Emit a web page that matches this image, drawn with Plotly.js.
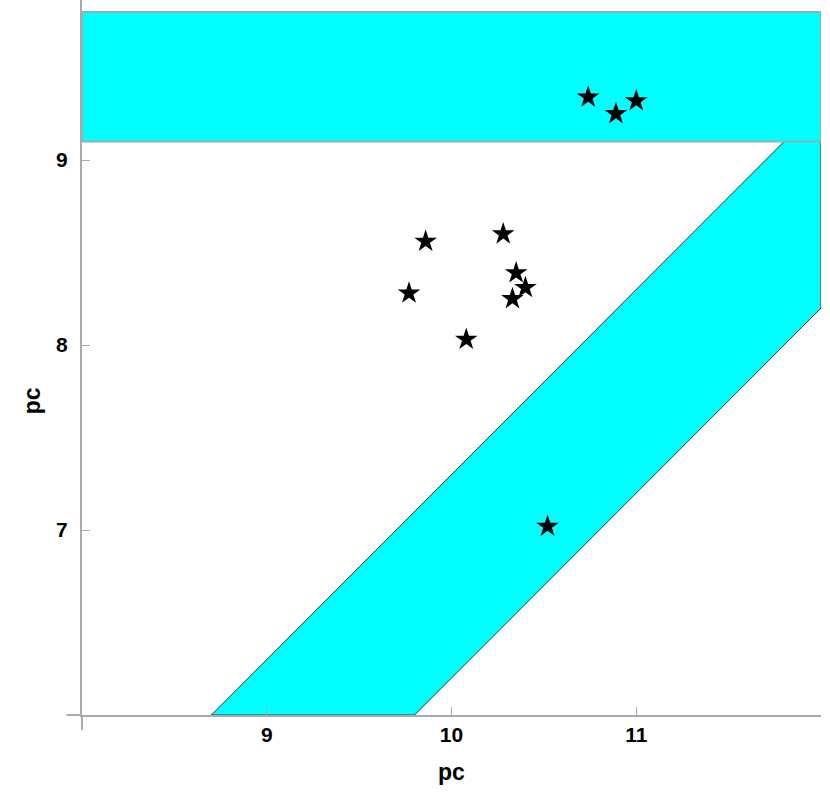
<!DOCTYPE html>
<html>
<head>
<meta charset="utf-8">
<script src="https://cdn.plot.ly/plotly-3.0.1.min.js"></script>
<style>
  body { margin: 0; background: #fff; }
  #chart { width: 830px; height: 806px; }
</style>
</head>
<body>
<div id="chart"></div>
<script>
// star points (pc, pc)
const starX = [10.74, 10.89, 11.00, 9.86, 10.28, 9.77, 10.35, 10.40, 10.33, 10.08, 10.52];
const starY = [9.34, 9.25, 9.32, 8.56, 8.60, 8.28, 8.39, 8.31, 8.25, 8.03, 7.02];

// horizontal band limits
const bandY = [9.1, 9.8];
// diagonal band: y = x - offset
const diagOffset = [2.7, 3.8];

// axis ranges and ticks
const xRange = [8, 12];
const yRange = [6, 9.865];
const xTicks = [8, 9, 10, 11, 12];
const xTickText = ['', '9', '10', '11', ''];
const yTicks = [6, 7, 8, 9];
const yTickText = ['', '7', '8', '9'];

// build the polygons from the limits
const topBand = {
    x: [xRange[0], xRange[1], xRange[1], xRange[0], xRange[0]],
    y: [bandY[0], bandY[0], bandY[1], bandY[1], bandY[0]]
};
const yLow = yRange[0];
const diagBand = {
    x: [yLow + diagOffset[0], yLow + diagOffset[1], xRange[1], xRange[1], bandY[0] + diagOffset[0], yLow + diagOffset[0]],
    y: [yLow, yLow, xRange[1] - diagOffset[1], bandY[0], bandY[0], yLow]
};

const cyan = '#00ffff';

const traces = [
    {
        x: diagBand.x, y: diagBand.y,
        type: 'scatter', mode: 'lines',
        fill: 'toself', fillcolor: cyan,
        line: { color: '#333333', width: 1 },
        hoverinfo: 'skip', showlegend: false
    },
    {
        x: topBand.x, y: topBand.y,
        type: 'scatter', mode: 'lines',
        fill: 'toself', fillcolor: cyan,
        line: { color: '#8fb3b3', width: 2 },
        hoverinfo: 'skip', showlegend: false
    },
    {
        x: starX, y: starY,
        type: 'scatter', mode: 'markers',
        marker: { symbol: 'star', size: 17, color: '#000000' },
        showlegend: false
    }
];

const fontFam = 'Liberation Sans, Arial, sans-serif';
const tickFont = { family: fontFam, size: 21, color: '#000', weight: 'bold' };

const layout = {
    width: 830, height: 806,
    margin: { l: 82, r: 9, t: 0, b: 91 },
    paper_bgcolor: '#ffffff',
    plot_bgcolor: '#ffffff',
    showlegend: false,
    xaxis: {
        range: xRange,
        tickvals: xTicks, ticktext: xTickText,
        ticks: 'inside', ticklen: 8, tickcolor: '#aaaaaa', tickwidth: 1,
        showline: true, linecolor: '#aaaaaa', linewidth: 2,
        showgrid: false, zeroline: false,
        tickfont: tickFont
    },
    yaxis: {
        range: yRange,
        tickvals: yTicks, ticktext: yTickText,
        ticks: 'inside', ticklen: 8, tickcolor: '#aaaaaa', tickwidth: 1,
        showline: true, linecolor: '#aaaaaa', linewidth: 2,
        showgrid: false, zeroline: false,
        tickfont: tickFont,
        ticklabelstandoff: 8
    },
    shapes: [
        // little axis overhangs at the corner
        { type: 'line', xref: 'paper', yref: 'paper', x0: -0.021, x1: 0, y0: 0, y1: 0,
          line: { color: '#aaaaaa', width: 2 } },
        { type: 'line', xref: 'paper', yref: 'paper', x0: 0, x1: 0, y0: -0.021, y1: 0,
          line: { color: '#aaaaaa', width: 2 } }
    ],
    annotations: [
        { text: 'pc', xref: 'paper', yref: 'paper', x: 0.5, y: -0.08, yanchor: 'middle',
          showarrow: false, font: { family: fontFam, size: 23, color: '#000', weight: 'bold' } },
        { text: 'pc', xref: 'paper', yref: 'paper', x: -0.088, y: 0.44, textangle: -90,
          showarrow: false, font: { family: fontFam, size: 23, color: '#000', weight: 'bold' } }
    ]
};

Plotly.newPlot('chart', traces, layout, { displayModeBar: false, staticPlot: true });
</script>
</body>
</html>
